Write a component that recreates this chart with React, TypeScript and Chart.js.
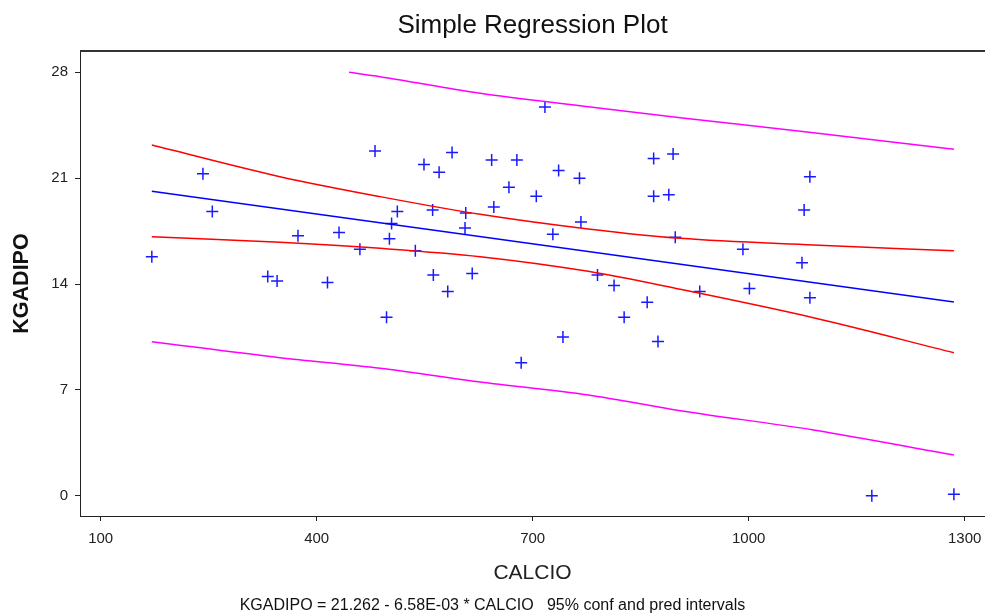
import React, { useEffect, useRef } from "react";
import { Chart, registerables } from "chart.js";

Chart.register(...registerables);

// Observed data (CALCIO, KGADIPO)
const calcio = [
  171, 242, 255, 332, 345, 374, 415, 431, 460, 481, 497, 501, 504, 512, 537,
  549, 561, 562, 570, 582, 588, 606, 607, 616, 643, 646, 667, 678, 684, 705,
  717, 728, 736, 742, 765, 767, 790, 813, 827, 859, 868, 868, 874, 889, 895,
  898, 932, 992, 1001, 1074, 1077, 1085, 1085, 1171, 1285,
];
const kgadipo = [
  15.8, 21.3, 18.8, 14.5, 14.2, 17.2, 14.1, 17.4, 16.3, 22.8, 11.8, 17.0, 18.0, 18.8, 16.2,
  21.9, 18.9, 14.6, 21.4, 13.5, 22.7, 17.7, 18.7, 14.7, 22.2, 19.1, 20.4, 22.2, 8.8, 19.8,
  25.7, 17.3, 21.5, 10.5, 21.0, 18.1, 14.6, 13.9, 11.8, 12.8, 22.3, 19.8, 10.2, 19.9, 22.6,
  17.1, 13.5, 16.3, 13.7, 15.4, 18.9, 21.1, 13.1, 0.0, 0.1,
];

// Fitted line endpoints
const fitX = [171, 1285];
const fitY = [20.14, 12.81];

// Band curves
const bandX = [171, 349, 488, 627, 777, 905, 1090, 1285];
const confUpper = [23.19, 21.1, 19.78, 18.61, 17.64, 17.02, 16.58, 16.2];
const confLower = [17.13, 16.76, 16.36, 15.81, 14.84, 13.65, 11.77, 9.46];
const predLower = [10.19, 9.13, 8.43, 7.52, 6.66, 5.62, 4.35, 2.69];
const predUpperX = [445, 488, 627, 777, 905, 1090, 1285];
const predUpper = [28.0, 27.71, 26.61, 25.73, 25.0, 24.0, 22.91];

const xTicks = [100, 400, 700, 1000, 1300];
const yTicks = [0, 7, 14, 21, 28];

const titleText = "Simple Regression Plot";
const footerText = "KGADIPO = 21.262 - 6.58E-03 * CALCIO   95% conf and pred intervals";

const FONT = "'Liberation Sans', Arial, Helvetica, sans-serif";

const zip = (xs: number[], ys: number[]) => xs.map((x, i) => ({ x, y: ys[i] }));

const noEdgePadding = (s: any) => {
  s._calculatePadding = () => {
    s.paddingLeft = 0;
    s.paddingRight = 0;
    s.paddingTop = 0;
    s.paddingBottom = 0;
  };
};

export default function App() {
  const ref = useRef<HTMLCanvasElement | null>(null);

  useEffect(() => {
    if (!ref.current) return;
    const textPlugin = {
      id: "texts",
      afterDraw(chart: any) {
        const { ctx, chartArea } = chart;
        ctx.save();
        // top frame line
        ctx.strokeStyle = "#333";
        ctx.lineWidth = 2;
        ctx.beginPath();
        ctx.moveTo(chartArea.left, chartArea.top);
        ctx.lineTo(chart.width, chartArea.top);
        ctx.stroke();
        ctx.fillStyle = "#111";
        ctx.textAlign = "center";
        ctx.textBaseline = "middle";
        ctx.font = `26px ${FONT}`;
        ctx.fillText(titleText, (chartArea.left + chart.width) / 2, 26);
        ctx.font = `16px ${FONT}`;
        ctx.fillText(footerText, chart.width / 2, 606);
        ctx.restore();
      },
    };

    const chart = new Chart(ref.current, {
      type: "scatter",
      data: {
        datasets: [
          {
            label: "pred upper",
            data: zip(predUpperX, predUpper),
            showLine: true,
            borderColor: "#ff00ff",
            borderWidth: 1.5,
            pointRadius: 0,
            cubicInterpolationMode: "monotone",
          },
          {
            label: "pred lower",
            data: zip(bandX, predLower),
            showLine: true,
            borderColor: "#ff00ff",
            borderWidth: 1.5,
            pointRadius: 0,
            cubicInterpolationMode: "monotone",
          },
          {
            label: "conf upper",
            data: zip(bandX, confUpper),
            showLine: true,
            borderColor: "#ff0000",
            borderWidth: 1.5,
            pointRadius: 0,
            cubicInterpolationMode: "monotone",
          },
          {
            label: "conf lower",
            data: zip(bandX, confLower),
            showLine: true,
            borderColor: "#ff0000",
            borderWidth: 1.5,
            pointRadius: 0,
            cubicInterpolationMode: "monotone",
          },
          {
            label: "fit",
            data: zip(fitX, fitY),
            showLine: true,
            borderColor: "#0000ff",
            borderWidth: 1.5,
            pointRadius: 0,
          },
          {
            label: "KGADIPO",
            data: zip(calcio, kgadipo),
            showLine: false,
            pointStyle: "cross",
            pointRadius: 6,
            borderColor: "#1a1aff",
            borderWidth: 1.5,
          },
        ],
      },
      options: {
        animation: false,
        responsive: false,
        maintainAspectRatio: false,
        layout: { autoPadding: false, padding: { top: 51, left: 0, right: 0, bottom: 0 } },
        plugins: {
          legend: { display: false },
          tooltip: { enabled: false },
          title: { display: false },
        },
        scales: {
          x: {
            type: "linear",
            min: 71.25,
            max: 1328.2,
            afterBuildTicks: (s: any) => {
              s.ticks = xTicks.map((v) => ({ value: v }));
            },
            beforeFit: noEdgePadding,
            afterFit: (s: any) => {
              s.height = 100;
            },
            grid: {
              drawOnChartArea: false,
              drawTicks: true,
              tickLength: 5,
              tickColor: "#222",
            },
            border: { display: true, color: "#222", width: 1 },
            ticks: {
              color: "#222",
              font: { family: FONT, size: 15 },
              padding: 9,
              maxRotation: 0,
              autoSkip: false,
              callback: (v: any) => String(v),
            },
            title: {
              display: true,
              text: "CALCIO",
              color: "#222",
              font: { family: FONT, size: 21 },
              padding: { top: 0, bottom: 30.4 },
            },
          },
          y: {
            type: "linear",
            min: -1.34,
            max: 29.41,
            afterBuildTicks: (s: any) => {
              s.ticks = yTicks.map((v) => ({ value: v }));
            },
            beforeFit: noEdgePadding,
            afterFit: (s: any) => {
              s.width = 80;
            },
            grid: {
              drawOnChartArea: false,
              drawTicks: true,
              tickLength: 5,
              tickColor: "#222",
            },
            border: { display: true, color: "#222", width: 1 },
            ticks: {
              color: "#222",
              font: { family: FONT, size: 15 },
              padding: 7,
              autoSkip: false,
              callback: (v: any) => String(v),
            },
            title: {
              display: true,
              text: "KGADIPO",
              color: "#111",
              font: { family: FONT, size: 21.5, weight: "bold" },
              padding: { top: 8.8, bottom: 0 },
            },
          },
        },
      },
      plugins: [textPlugin],
    } as any);
    return () => chart.destroy();
  }, []);

  return (
    <div style={{ position: "fixed", left: 0, top: 0, width: 985, height: 616, background: "#fff" }}>
      <canvas ref={ref} width={985} height={616} style={{ display: "block", width: 985, height: 616 }} />
    </div>
  );
}
